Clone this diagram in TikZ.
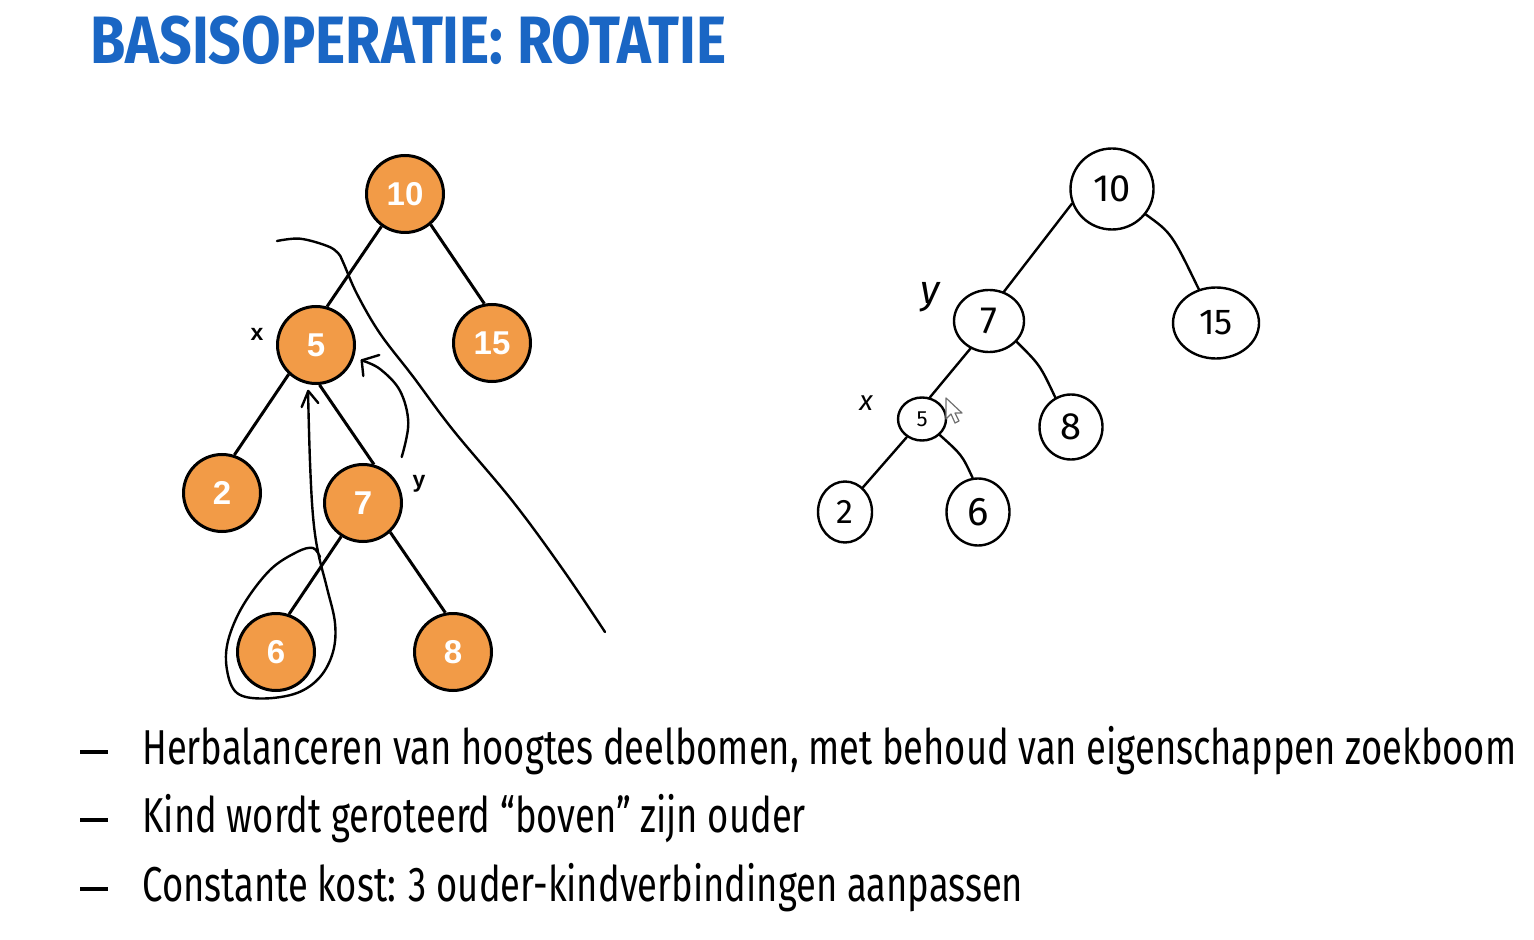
\documentclass[tikz,border=0pt]{standalone}
\usepackage{fontspec}
\usetikzlibrary{shapes.geometric}
\setmainfont{Fira Sans}
\newfontfamily\bodyfont[FakeStretch=0.742]{Fira Sans}
\newfontfamily\titlefont[FakeStretch=0.855]{Fira Sans}
\newfontfamily\numfont{Liberation Sans}
\newfontfamily\handfont{Fira Sans}
\definecolor{nodeorange}{HTML}{F29B47}
\definecolor{titleblue}{HTML}{1A66C4}
\definecolor{cursorgray}{HTML}{707070}

\begin{document}
\begin{tikzpicture}[x=0.5pt,y=-0.5pt,
  onode/.style={circle, draw=black, line width=1.5pt, fill=nodeorange,
    minimum size=38.5pt, inner sep=0pt, text=white,
    font=\numfont\bfseries\fontsize{16.5}{17}\selectfont},
  oedge/.style={line width=1.5pt},
  tag/.style={font=\numfont\bfseries\fontsize{11.5}{12}\selectfont},
  ink/.style={line width=1.2pt, line cap=round, line join=round},
  hnode/.style={ellipse, draw=black, line width=1.2pt, inner sep=0pt},
  hedge/.style={line width=1.2pt, line cap=round},
  bullet/.style={anchor=base west, font=\bodyfont\fontsize{24.5}{26}\selectfont},
  dashmark/.style={line width=2pt}]
\useasboundingbox (0,0) rectangle (1534,940);

% title
\node[anchor=base west, inner sep=0pt, text=titleblue,
  font=\titlefont\bfseries\fontsize{33.5}{36}\selectfont] (title) at (90,64)
  {BASISOPERATIE: ROTATIE};

% ---- left tree (before rotation) ----
\node[onode] (L10) at (405,194) {10};
\node[onode] (L5)  at (316,345) {5};
\node[onode] (L15) at (492,343) {15};
\node[onode] (L2)  at (222,493) {2};
\node[onode] (L7)  at (363,503) {7};
\node[onode] (L6)  at (276,652) {6};
\node[onode] (L8)  at (453,652) {8};
\draw[oedge] (L10.234) -- (L5.74);
\draw[oedge] (L10.310) -- (L15.101);
\draw[oedge] (L5.227) -- (L2.72);
\draw[oedge] (L5.275) -- (L7.74);
\draw[oedge] (L7.237) -- (L6.71);
\draw[oedge] (L7.313) -- (L8.101);
\node[tag] (tx) at (257,334) {x};
\node[tag] (ty) at (419,484) {y};

% hand-drawn annotations on the left tree
\draw[ink] plot[smooth, tension=0.6] coordinates {(277,241) (300,238.7) (327,245.9)
  (338,253) (343,262) (357,294) (380,333.5) (413,376.5) (453,430) (513,501.7)
  (563,569.7) (605,632)};
\draw[ink] plot[smooth, tension=0.6] coordinates {(401.7,457) (408.3,423) (400,390.8)
  (380,369) (361.7,360.4)};
\draw[ink] (363.3,376) -- (361.7,360.4) -- (379.3,355);
\draw[ink] plot[smooth, tension=0.6] coordinates {(320,557) (313,548) (297,552) (270,570)
  (243,605.5) (228,641) (227,670) (237,693) (263,698.5) (297,693) (320,677)
  (333,652) (335,623) (327,588) (318,552) (313,516) (310,462) (308,391)};
\draw[ink] (301.7,407) -- (308.3,391) -- (318.3,403);

% ---- right tree (after rotation) ----
\node[hnode, minimum width=41.5pt, minimum height=40.5pt,
  font=\handfont\fontsize{19}{19}\selectfont] (R10) at (1112,189) {10};
\node[hnode, minimum width=35pt, minimum height=31pt,
  font=\handfont\fontsize{19}{19}\selectfont] (R7) at (989,321) {7};
\node[hnode, minimum width=43pt, minimum height=35.5pt,
  font=\handfont\fontsize{18}{18}\selectfont] (R15) at (1216,323) {15};
\node[hnode, minimum width=24pt, minimum height=21.5pt,
  font=\handfont\fontsize{11}{11}\selectfont] (R5) at (922,419) {5};
\node[hnode, minimum width=31.5pt, minimum height=32.5pt,
  font=\handfont\fontsize{19}{19}\selectfont] (R8) at (1071,427) {8};
\node[hnode, minimum width=27pt, minimum height=30.5pt,
  font=\handfont\fontsize{17}{17}\selectfont] (R2) at (845,512) {2};
\node[hnode, minimum width=31.5pt, minimum height=33.5pt,
  font=\handfont\fontsize{20}{20}\selectfont] (R6) at (978,512) {6};
\draw[hedge] (R10.200) -- (R7.63);
\draw[hedge] (R10.323) .. controls (1171.5,233) .. (R15.117);
\draw[hedge] (R7.236) -- (R5.70);
\draw[hedge] (R7.323) .. controls (1040,365) .. (R8.118);
\draw[hedge] (R5.230) -- (R2.54);
\draw[hedge] (R5.318) .. controls (962,455) .. (R6.99);
\node[font=\handfont\itshape\fontsize{20}{20}\selectfont] (hy) at (930,297) {y};
\node[font=\handfont\itshape\fontsize{14}{14}\selectfont] (hx) at (866,403) {x};

% mouse pointer
\draw[cursorgray, fill=white, line width=0.6pt, line join=round]
  (946,398) -- (946,419) -- (951,414) -- (955,423) -- (959,421) -- (955,413)
  -- (962,413) -- cycle;

% ---- bullet list ----
\draw[dashmark] (80,752) -- (108,752);
\draw[dashmark] (80,820) -- (108,820);
\draw[dashmark] (80,889) -- (108,889);
\node[bullet, inner sep=0pt] (b1) at (142,764)
  {Herbalanceren van hoogtes deelbomen, met behoud van eigenschappen zoekboom};
\node[bullet, inner sep=0pt] (b2) at (142,832)
  {Kind wordt geroteerd “boven” zijn ouder};
\node[bullet, inner sep=0pt] (b3) at (142,901)
  {Constante kost: 3 ouder-kindverbindingen aanpassen};
\end{tikzpicture}
\end{document}
